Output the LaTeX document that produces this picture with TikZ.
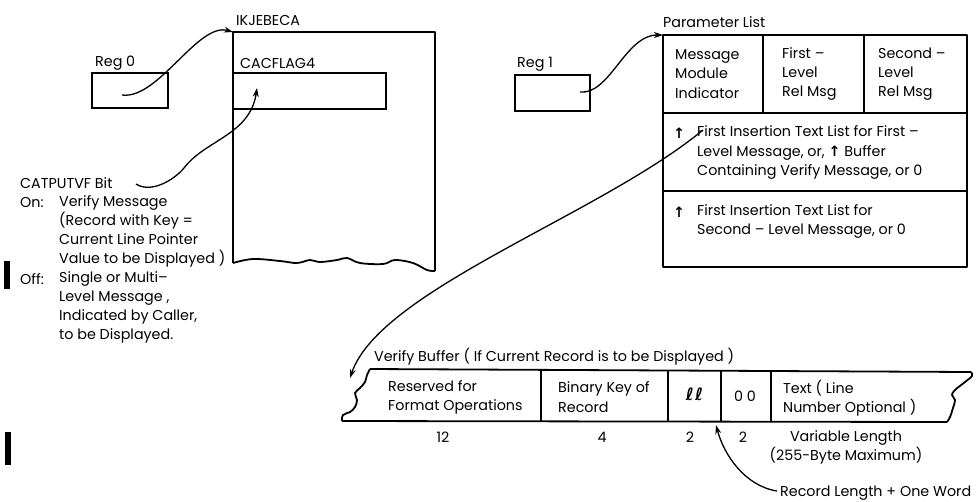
\documentclass[tikz,border=0pt]{standalone}
\usepackage{fontspec}
\setmainfont{Poppins}
\newfontfamily\symfont{DejaVu Sans}
\usetikzlibrary{arrows.meta}
\newcommand\ptrglyph{{\symfont\bfseries\char"2191}}
\newcommand\lenglyph{{\fontsize{17}{19}\symfont\bfseries\itshape\char"2113\kern1pt\char"2113}}
\begin{document}
\begin{tikzpicture}[x=1pt,y=-1pt,
  frame/.style={line width=1.8pt, line join=round},
  cell/.style={draw, line width=1.8pt, inner sep=0pt},
  txt/.style={inner sep=0pt, anchor=west, align=left, font=\fontsize{14.3}{19.2}\selectfont},
  ctxt/.style={inner sep=0pt, align=center, font=\fontsize{14.3}{19.2}\selectfont},
  ptr/.style={line width=1.3pt, -{Stealth[length=9pt,width=6pt]}},
  bar/.style={fill=black, draw=none}]
\useasboundingbox (0,0) rectangle (976,501);

% ---------- Register 0 and IKJEBECA ----------
\node[txt] (reg0lbl) at (95,63) {Reg 0};
\node[cell, minimum width=76pt, minimum height=35pt] (reg0) at (130,90.5) {};
\coordinate (reg0ptr) at (122,95);

\node[txt] (ikjlbl) at (236,20) {IKJEBECA};
\coordinate (ikjtop) at (233,32);
\draw[frame] (233,263) -- (233,32) -- (435,32) -- (435,271);
\draw[frame] plot[smooth, tension=0.6] coordinates {
  (233,263) (253,259) (280,261) (297,263) (310,260) (320,262) (337,260)
  (347,258) (360,263) (383,264) (395,260) (413,263) (427,270) (435,271)};

\node[txt] (cacflag) at (240,63) {CACFLAG4};
\node[cell, minimum width=153pt, minimum height=36pt] (cacfield) at (309.5,91) {};
\coordinate (cacbit) at (257,88);

\draw[ptr] (reg0ptr) .. controls (158,100) and (198,22) .. (ikjtop);

% ---------- CATPUTVF bit description ----------
\node[txt] (bitlbl) at (20,183) {CATPUTVF Bit};
\coordinate (bitptr) at (136,184);
\node[txt] (onlbl) at (20,203) {On:};
\node[txt] (ontext) at (59,231.5) {Verify Message\\(Record with Key =\\Current Line Pointer\\Value to be Displayed )};
\node[txt] (offlbl) at (20,279) {Off:};
\node[txt] (offtext) at (59,307.5) {Single or Multi--\\Level Message ,\\Indicated by Caller,\\to be Displayed.};
\draw[ptr] (bitptr) .. controls (150,193) and (172,182) .. (184,168)
  .. controls (205,140) and (250,135) .. (cacbit);

\fill[bar] (4,261) rectangle (10,289);
\fill[bar] (5,432) rectangle (11,465);

% ---------- Register 1 and parameter list ----------
\node[txt] (reg1lbl) at (517,64) {Reg 1};
\node[cell, minimum width=75pt, minimum height=36pt] (reg1) at (552.5,93) {};
\coordinate (reg1ptr) at (580,92);

\node[txt] (plistlbl) at (663,22) {Parameter List};
\coordinate (plisttop) at (663,35);
\draw[frame] (663,35) rectangle (967,267);
\draw[frame] (663,113) -- (967,113);
\draw[frame] (663,191) -- (967,191);
\draw[frame] (763,35) -- (763,113);
\draw[frame] (864,35) -- (864,113);

\draw[ptr] (reg1ptr) .. controls (610,95) and (625,35) .. (plisttop);

\node[txt] (mmi) at (675,74) {Message\\Module\\Indicator};
\node[txt] (flrm) at (782,74) {First --\\Level\\Rel Msg};
\node[txt] (slrm) at (878,74) {Second --\\Level\\Rel Msg};

\node[txt] (ins1arrow) at (673,133) {\ptrglyph};
\node[txt] (ins1) at (697,152.5) {First Insertion Text List for First --\\Level Message, or, \ptrglyph\ Buffer\\Containing Verify Message, or 0};
\node[txt] (ins2arrow) at (673,212) {\ptrglyph};
\node[txt] (ins2) at (697,221.5) {First Insertion Text List for\\Second -- Level Message, or 0};
\coordinate (bufptr) at (703,130);

% ---------- Verify buffer ----------
\node[txt] (vbuflbl) at (374,357) {Verify Buffer ( If Current Record is to be Displayed )};
\coordinate (vbufedge) at (350,378);
\draw[frame] (370,369) -- (971,372);
\draw[frame] (342,421) -- (947,422);
\draw[frame] plot[smooth, tension=0.6] coordinates {
  (370,369) (367,375) (365,382) (360,388) (355,393) (357,400) (355,407)
  (350,412) (343,415) (342,421)};
\draw[frame] plot[smooth, tension=0.6] coordinates {
  (971,372) (972,376) (965,382) (955,390) (952,395) (955,400) (953,408)
  (950,417) (947,422)};
\draw[frame] (541,370.5) -- (541,422);
\draw[frame] (668,370.5) -- (668,422);
\draw[frame] (721,370.5) -- (721,422);
\draw[frame] (771,370.5) -- (771,422);

\node[txt] (resv) at (388,397) {Reserved for\\Format Operations};
\node[txt] (bkey) at (558,397) {Binary Key of\\Record};
\node[ctxt] (llfld) at (694.5,394) {\lenglyph};
\node[ctxt] (zzfld) at (745,396) {0 0};
\node[txt] (textfld) at (783,398) {Text ( Line\\Number Optional )};

\node[ctxt] (len12) at (443,437) {12};
\node[ctxt] (len4) at (602,437) {4};
\node[ctxt] (len2a) at (690,437) {2};
\node[ctxt] (len2b) at (743,437) {2};
\node[ctxt] (lenvar) at (846,447) {Variable Length\\(255-Byte Maximum)};

\node[txt] (reclen) at (780,493) {Record Length + One Word};
\coordinate (reclenptr) at (777,491);
\coordinate (lenbound) at (716,425);

\draw[ptr] (bufptr) .. controls (600,215) and (380,290) .. (vbufedge);
\draw[ptr] (reclenptr) .. controls (745,486) and (724,455) .. (lenbound);
\end{tikzpicture}
\end{document}
